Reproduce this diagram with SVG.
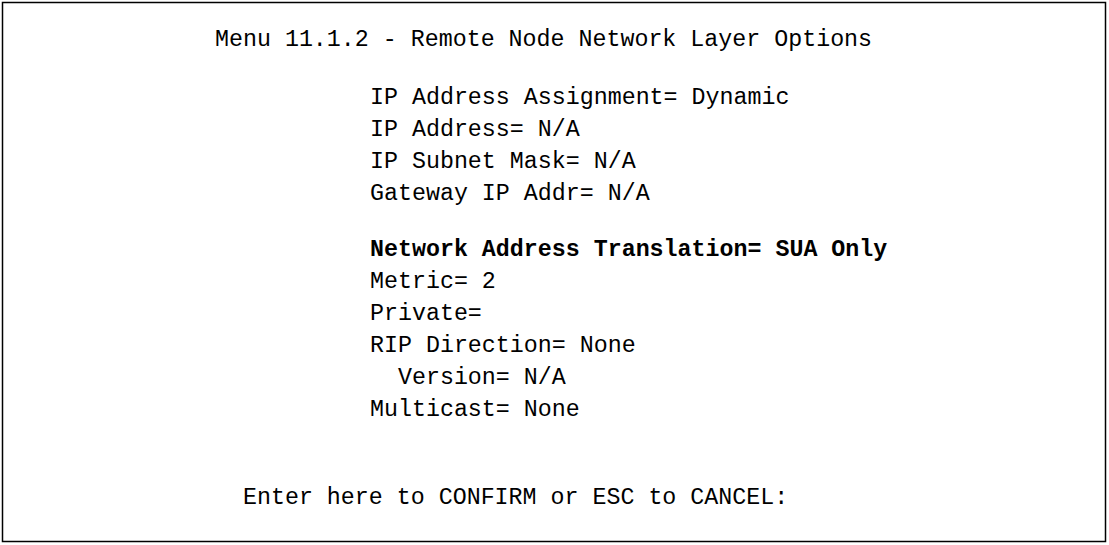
<svg xmlns="http://www.w3.org/2000/svg" width="1109" height="545" viewBox="0 0 1109 545">
<style>
text{font-family:"Liberation Mono","Courier New",monospace;font-size:23.3px;fill:#000;white-space:pre}
.b{font-weight:bold}
</style>
<rect x="0" y="0" width="1109" height="545" fill="#fff"/>
<rect x="2.5" y="2.5" width="1103" height="539" fill="none" stroke="#000" stroke-width="1.5"/>
<g id="screen">
<text x="215" y="46">Menu 11.1.2 - Remote Node Network Layer Options</text>
<text x="370" y="104">IP Address Assignment= Dynamic</text>
<text x="370" y="136">IP Address= N/A</text>
<text x="370" y="168">IP Subnet Mask= N/A</text>
<text x="370" y="200">Gateway IP Addr= N/A</text>
<text x="370" y="256" class="b">Network Address Translation= SUA Only</text>
<text x="370" y="288">Metric= 2</text>
<text x="370" y="320">Private=</text>
<text x="370" y="352">RIP Direction= None</text>
<text x="370" y="384">  Version= N/A</text>
<text x="370" y="416">Multicast= None</text>
<text x="215" y="504">  Enter here to CONFIRM or ESC to CANCEL:</text>
</g>
</svg>
